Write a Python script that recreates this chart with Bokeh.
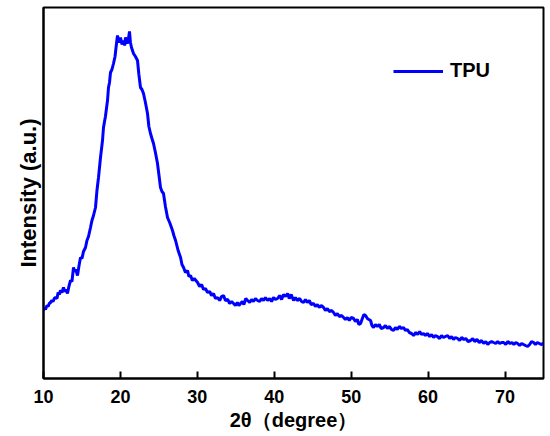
from bokeh.plotting import figure
from bokeh.models import Range1d, FixedTicker, Legend, LegendItem, Title
from bokeh.embed import file_html
from bokeh.resources import INLINE

two_theta = [10.00, 10.13, 10.26, 10.45, 10.60, 10.75, 10.91, 11.10, 11.25, 11.40, 11.56, 11.75, 11.90, 12.05, 12.21, 12.40, 12.60, 12.75, 12.90, 13.12,
             13.30, 13.51, 13.70, 13.90, 14.05, 14.20, 14.42, 14.60, 14.81, 15.00, 15.20, 15.46, 15.65, 15.85, 16.11, 16.30, 16.50, 16.76, 16.95, 17.15,
             17.41, 17.67, 17.80, 18.05, 18.32, 18.45, 18.58, 18.71, 18.90, 19.10, 19.30, 19.49, 19.62, 19.80, 20.01, 20.20, 20.40, 20.55, 20.66, 20.80,
             20.92, 21.05, 21.18, 21.30, 21.44, 21.70, 21.95, 22.22, 22.40, 22.61, 22.80, 23.00, 23.25, 23.52, 23.70, 23.91, 24.10, 24.30, 24.55, 24.82,
             25.00, 25.21, 25.40, 25.60, 25.85, 26.12, 26.45, 26.77, 26.95, 27.17, 27.50, 27.82, 28.00, 28.21, 28.45, 28.73, 28.90, 29.12, 29.35, 29.60,
             30.03, 30.30, 30.55, 30.80, 31.05, 31.33, 31.60, 31.85, 32.10, 32.35, 32.63, 32.90, 33.15, 33.41, 33.65, 33.95, 34.20, 34.45, 34.71, 34.95,
             35.20, 35.40, 35.62, 35.85, 36.05, 36.30, 36.53, 36.80, 37.05, 37.30, 37.55, 37.83, 38.10, 38.35, 38.60, 38.85, 39.13, 39.40, 39.65, 39.90,
             40.15, 40.43, 40.70, 40.95, 41.20, 41.45, 41.73, 41.95, 42.20, 42.51, 42.75, 43.00, 43.30, 43.55, 43.81, 44.05, 44.30, 44.55, 44.80, 45.11,
             45.35, 45.60, 45.85, 46.10, 46.41, 46.65, 46.90, 47.15, 47.45, 47.71, 47.95, 48.20, 48.45, 48.75, 49.01, 49.25, 49.50, 49.75, 50.00, 50.31,
             50.55, 50.80, 51.00, 51.22, 51.45, 51.65, 51.87, 52.10, 52.30, 52.52, 52.70, 52.91, 53.15, 53.40, 53.65, 53.90, 54.21, 54.45, 54.70, 54.95,
             55.25, 55.51, 55.75, 56.00, 56.25, 56.55, 56.81, 57.05, 57.30, 57.55, 57.85, 58.11, 58.40, 58.65, 58.90, 59.15, 59.41, 59.65, 59.90, 60.20,
             60.45, 60.71, 60.95, 61.20, 61.50, 61.75, 62.00, 62.25, 62.54, 62.80, 63.05, 63.30, 63.55, 63.84, 64.10, 64.35, 64.65, 64.90, 65.20, 65.53,
             65.80, 66.05, 66.35, 66.65, 66.95, 67.22, 67.50, 67.75, 68.00, 68.25, 68.52, 68.80, 69.05, 69.30, 69.55, 69.82, 70.10, 70.35, 70.65, 70.90,
             71.15, 71.40, 71.64, 71.90, 72.15, 72.40, 72.65, 72.94, 73.20, 73.45, 73.72, 73.95, 74.20, 74.45, 74.70, 75.00]

intensity = [68, 71, 69, 73, 72, 75, 76, 78, 77, 80, 81, 80, 86, 84, 88, 86, 91, 87, 89, 85,
             92, 98, 97, 111, 107, 109, 103, 112, 121, 120, 127, 131, 138, 142, 151, 158, 163, 171, 188, 201,
             221, 238, 251, 262, 278, 291, 296, 306, 309, 315, 322, 335, 343, 336, 341, 334, 338, 333, 341, 337,
             335, 340, 347, 336, 331, 325, 322, 318, 304, 291, 289, 285, 276, 265, 252, 245, 240, 235, 226, 215,
             204, 191, 187, 185, 172, 161, 155, 148, 143, 138, 128, 121, 114, 111, 106, 108, 102, 103, 98, 100,
             96, 92, 94, 89, 90, 86, 87, 83, 85, 80, 81, 78, 82, 83, 78, 79, 75, 77, 75, 73,
             76, 73, 75, 77, 74, 80, 78, 76, 79, 77, 80, 78, 77, 80, 78, 81, 78, 80, 77, 81,
             79, 80, 83, 79, 84, 82, 85, 80, 84, 78, 81, 78, 80, 77, 76, 79, 76, 78, 74, 75,
             72, 74, 71, 73, 71, 68, 70, 67, 68, 66, 63, 65, 62, 63, 61, 59, 61, 58, 61, 60,
             57, 59, 54, 55, 60, 64, 63, 60, 59, 58, 53, 51, 54, 52, 54, 50, 51, 53, 50, 52,
             49, 48, 51, 49, 52, 50, 51, 48, 49, 46, 45, 43, 46, 44, 47, 44, 45, 43, 45, 42,
             44, 41, 43, 42, 40, 43, 41, 42, 43, 40, 42, 39, 41, 40, 38, 41, 39, 40, 37, 38,
             40, 37, 39, 36, 38, 35, 37, 34, 36, 37, 36, 35, 37, 35, 36, 36, 34, 37, 35, 36,
             34, 36, 35, 33, 35, 34, 33, 32, 34, 37, 36, 34, 36, 35, 34, 35]

x_ticks = [10, 20, 30, 40, 50, 60, 70]
series_name = "TPU"
x_title = "2θ（degree）"
y_title = "Intensity (a.u.)"

FONT = "Liberation Sans"

p = figure(width=550, height=436, output_backend="svg", toolbar_location=None,
           x_range=Range1d(10, 75), y_range=Range1d(0, 371),
           min_border_left=43, min_border_right=7, min_border_top=7, min_border_bottom=58)
p.background_fill_color = "white"
p.border_fill_color = "white"
p.outline_line_color = "black"
p.outline_line_width = 2
p.xgrid.visible = False
p.ygrid.visible = False

r = p.line(two_theta, intensity, line_color="#0000FF", line_width=3)

p.xaxis.ticker = FixedTicker(ticks=x_ticks)
p.xaxis.minor_tick_line_color = None
p.xaxis.major_tick_in = 7
p.xaxis.major_tick_out = 0
p.xaxis.major_tick_line_width = 2
p.xaxis.axis_line_width = 2
p.xaxis.major_label_text_font = FONT
p.xaxis.major_label_text_font_style = "bold"
p.xaxis.major_label_text_font_size = "18px"
p.xaxis.major_label_text_color = "black"
p.xaxis.major_label_standoff = 11
p.xaxis.axis_label = x_title
p.xaxis.axis_label_text_font = FONT
p.xaxis.axis_label_text_font_style = "bold"
p.xaxis.axis_label_text_font_size = "20px"
p.xaxis.axis_label_text_color = "black"
p.xaxis.axis_label_standoff = 3

p.yaxis.ticker = FixedTicker(ticks=[])
p.yaxis.minor_tick_line_color = None
p.yaxis.major_tick_line_color = None
p.yaxis.axis_line_width = 2

ytitle = Title(text=y_title, align="center", offset=-15, standoff=6,
               text_font=FONT, text_font_style="bold", text_font_size="22px",
               text_color="black")
p.add_layout(ytitle, "left")

legend = Legend(items=[LegendItem(label=series_name, renderers=[r])],
                location=(350, 296), glyph_width=50, glyph_height=20,
                label_standoff=7, padding=0, margin=0, spacing=0,
                border_line_color=None, background_fill_alpha=0,
                label_text_font=FONT, label_text_font_style="bold",
                label_text_font_size="20px", label_text_color="black")
p.add_layout(legend, "center")

open("out.html", "w").write(file_html(p, INLINE))
